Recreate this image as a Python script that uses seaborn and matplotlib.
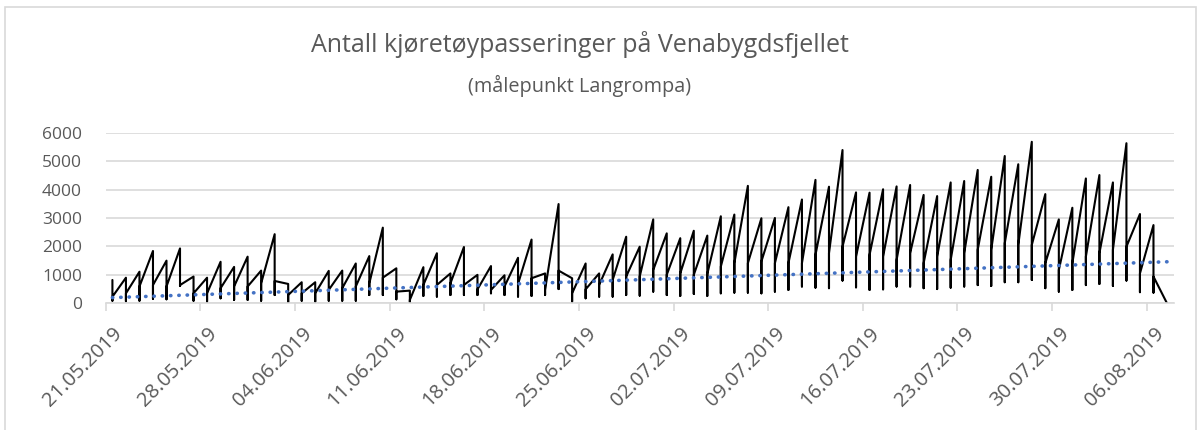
import pandas as pd
import seaborn as sns
import matplotlib.pyplot as plt
from matplotlib.transforms import ScaledTranslation
from matplotlib.patches import Rectangle

# data - three readings per day: peak, low, mid
start_date = '2019-05-21'
top = [820, 900, 1110, 1840, 1500, 1930, 940, 900, 1460, 1280, 1640, 1150, 2430, 680,
       740, 740, 1140, 1150, 1400, 1660, 2660, 1230, 445, 1270, 1760, 1050, 1980, 1000,
       1310, 985, 1600, 2240, 1050, 3490, 880, 1400, 1050, 1720, 2340, 1990, 2950, 2460,
       2290, 2550, 2380, 3060, 3120, 4130, 2990, 3000, 3380, 3650, 4340, 4100, 5390, 3900,
       3890, 4010, 4110, 4160, 3810, 3770, 4250, 4300, 4690, 4450, 5180, 4890, 5680, 3840,
       2950, 3360, 4390, 4510, 4250, 5630, 3140, 2750]
bottom = [90, 70, 90, 160, 140, 610, 90, 60, 175, 120, 120, 90, 290, 25,
          90, 60, 90, 90, 90, 290, 290, 140, 35, 260, 235, 290, 290, 290,
          350, 290, 235, 260, 290, 500, 60, 175, 235, 235, 290, 270, 410, 290,
          260, 330, 260, 350, 375, 375, 350, 410, 470, 590, 550, 530, 800, 560,
          470, 490, 590, 590, 530, 500, 550, 590, 640, 610, 740, 740, 820, 530,
          410, 470, 640, 680, 610, 800, 390, 375]
mid = [230, 350, 590, 640, 590, 640, 350, 350, 530, 590, 590, 700, 785, 290,
       350, 350, 470, 530, 590, 700, 900, 410, 120, 645, 645, 700, 645, 490,
       470, 590, 680, 880, 470, 1150, 350, 490, 645, 820, 940, 940, 1170, 1000,
       1050, 1000, 1030, 1290, 1410, 1410, 1470, 1410, 1410, 1410, 1700, 1760, 1990, 1640,
       1700, 1640, 1520, 1760, 1410, 1640, 1520, 1760, 1880, 1880, 2110, 2050, 2050, 1410,
       1170, 1410, 1640, 1760, 1880, 1990, 1050, 940]
last_value = 0
trend_first = 200
trend_last = 1460
tick_labels = ['21.05.2019', '28.05.2019', '04.06.2019', '11.06.2019', '18.06.2019',
               '25.06.2019', '02.07.2019', '09.07.2019', '16.07.2019', '23.07.2019',
               '30.07.2019', '06.08.2019']
title = 'Antall kjøretøypasseringer på Venabygdsfjellet'
subtitle = '(målepunkt Langrompa)'

days = pd.date_range(start_date, periods=len(top) + 1, freq='D') + pd.Timedelta(hours=12)
rows = []
for d, t, b, m in zip(days, top, bottom, mid):
    rows += [(d, t), (d, b), (d, m)]
rows.append((days[-1], last_value))
df = pd.DataFrame(rows, columns=['dato', 'antall'])
trend = pd.DataFrame({'dato': [days[0], days[-1]], 'antall': [trend_first, trend_last]})

sns.set_theme(style='white')
plt.rcParams['font.family'] = ['Open Sans', 'DejaVu Sans']
grey = '#595959'
light = '#D9D9D9'

fig = plt.figure(figsize=(12.02, 4.30), dpi=100)
ax = fig.add_axes([0.0879, 0.2947, 0.8886, 0.3967])

sns.lineplot(data=df, x='dato', y='antall', sort=False, estimator=None,
             color='black', lw=1.5, ax=ax)
sns.lineplot(data=trend, x='dato', y='antall', estimator=None, color='#4472C4',
             lw=2.6, ax=ax, linestyle=(0, (0.1, 2.2)), dash_capstyle='round')

ax.set_xlim(pd.Timestamp('2019-05-21'), pd.Timestamp('2019-08-08'))
ax.set_ylim(0, 6000)
ax.set_yticks(range(0, 6001, 1000))
ax.set_xticks(pd.to_datetime(tick_labels, format='%d.%m.%Y'))
ax.set_xticklabels(tick_labels, rotation=45, ha='right', va='center',
                   rotation_mode='anchor')
ax.set_xlabel('')
ax.set_ylabel('')

ax.yaxis.grid(True, color=light, lw=1.2)
ax.set_axisbelow(True)
for s in ['left', 'right', 'top']:
    ax.spines[s].set_visible(False)
ax.spines['bottom'].set_color(light)
ax.spines['bottom'].set_linewidth(1.2)
ax.tick_params(axis='y', length=0, pad=17, labelsize=12.5, labelcolor=grey)
ax.tick_params(axis='x', direction='out', length=6, width=1.2, color=light,
               pad=13.5, labelsize=14.5, labelcolor=grey, bottom=True)
off = ScaledTranslation(14 / 100, 0, fig.dpi_scale_trans)
for lab in ax.get_xticklabels():
    lab.set_transform(lab.get_transform() + off)

fig.text(0.4825, 1 - 44 / 430, title, ha='center', va='center', fontsize=18, color=grey)
fig.text(0.4825, 1 - 86 / 430, subtitle, ha='center', va='center', fontsize=14.3, color=grey)

fig.add_artist(Rectangle((5 / 1202, -0.05), 1191 / 1202, 1.05 - 7 / 430,
                         transform=fig.transFigure, fill=False, ec=light, lw=1.2))

fig.savefig('out.png', dpi=100)
